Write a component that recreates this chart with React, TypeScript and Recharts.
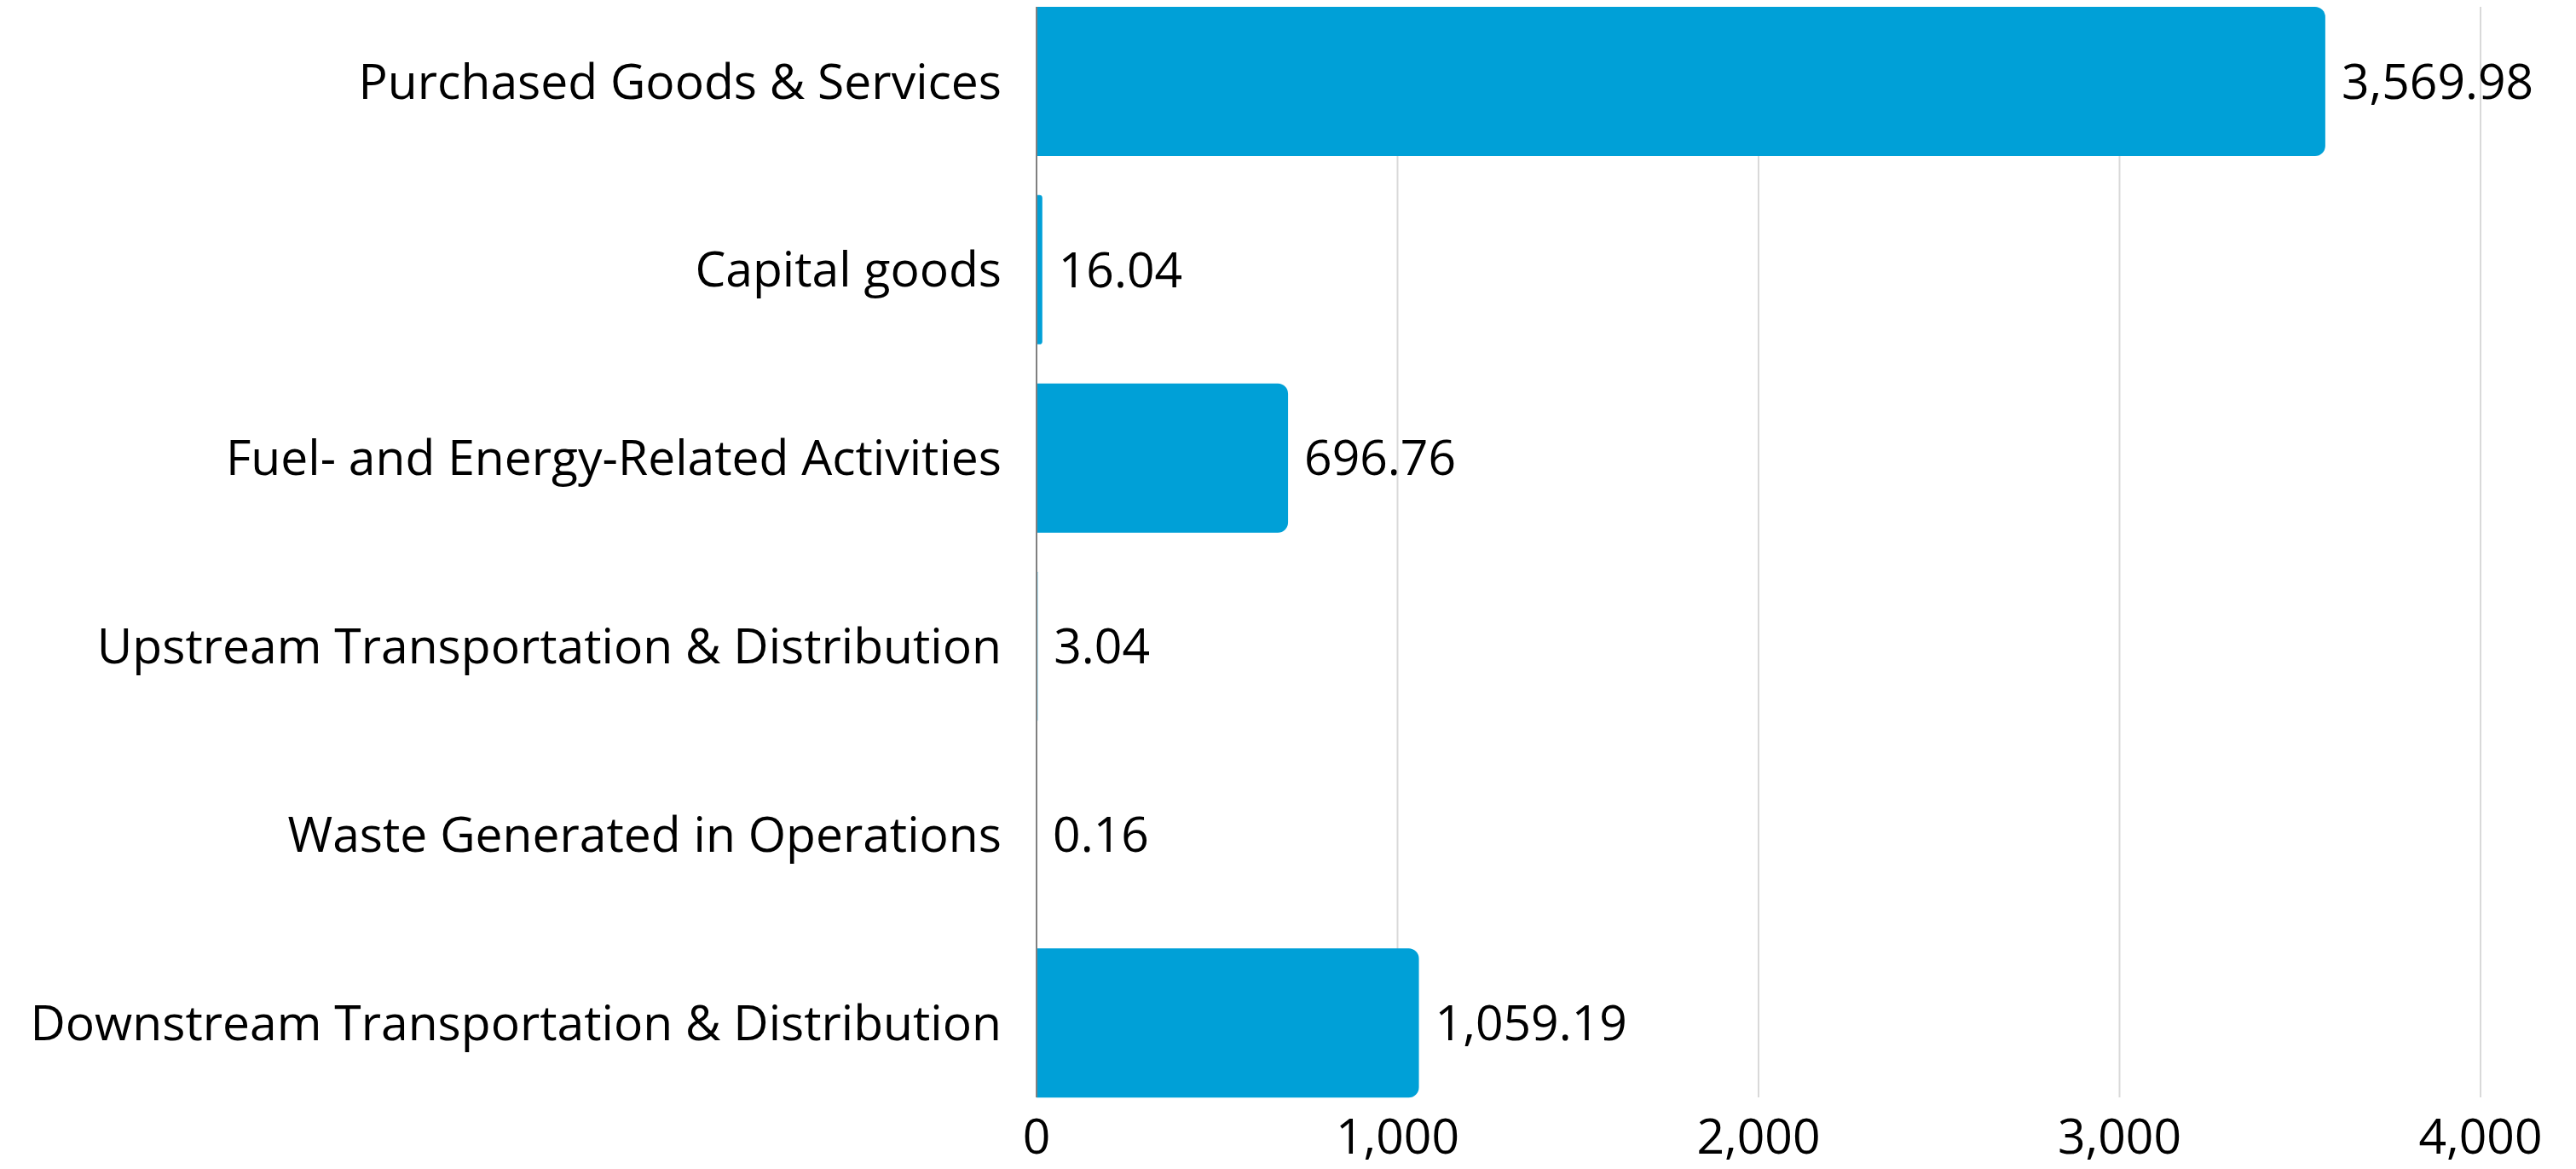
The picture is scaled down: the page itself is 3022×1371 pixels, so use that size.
import { BarChart, Bar, XAxis, YAxis, CartesianGrid, LabelList } from "recharts";

const categories = [
  "Purchased Goods & Services",
  "Capital goods",
  "Fuel- and Energy-Related Activities",
  "Upstream Transportation & Distribution",
  "Waste Generated in Operations",
  "Downstream Transportation & Distribution",
];

const emissions = [3569.98, 16.04, 696.76, 3.04, 0.16, 1059.19];

const xTicks = [0, 1000, 2000, 3000, 4000];

const data = categories.map((name, i) => ({ name, value: emissions[i] }));

const FONT = "'Open Sans', sans-serif";
const FONT_SIZE = 57;

const fmtValue = (v: number) =>
  v.toLocaleString("en-US", { minimumFractionDigits: 2, maximumFractionDigits: 2 });
const fmtTick = (v: number) => v.toLocaleString("en-US");

export default function App() {
  return (
    <div style={{ width: 3006, height: 1355, fontFamily: FONT, overflow: "visible" }}>
      <BarChart
        width={3006}
        height={1363}
        data={data}
        layout="vertical"
        margin={{ top: 0, right: 104, bottom: 0, left: 0 }}
      >
        <CartesianGrid horizontal={false} stroke="#d9d9d9" strokeWidth={2} />
        <XAxis
          type="number"
          domain={[0, 4000]}
          ticks={xTicks}
          tickFormatter={fmtTick}
          axisLine={false}
          tickLine={false}
          tickSize={0}
          tickMargin={26}
          height={84}
          tick={{ fill: "#000", fontSize: FONT_SIZE, fontFamily: FONT }}
        />
        <YAxis
          type="category"
          dataKey="name"
          width={1208}
          axisLine={{ stroke: "#808080", strokeWidth: 2 }}
          tickLine={false}
          tickSize={0}
          tickMargin={41}
          padding={{ top: -23, bottom: -23 }}
          interval={0}
          tick={{ fill: "#000", fontSize: FONT_SIZE, fontFamily: FONT }}
        />
        <Bar
          dataKey="value"
          fill="#00A0D7"
          barSize={175}
          radius={[0, 12, 12, 0]}
          isAnimationActive={false}
        >
          <LabelList
            dataKey="value"
            position="right"
            offset={19}
            formatter={(v: number) => fmtValue(Number(v))}
            fill="#000"
            fontSize={FONT_SIZE}
            fontFamily={FONT}
          />
        </Bar>
      </BarChart>
    </div>
  );
}
